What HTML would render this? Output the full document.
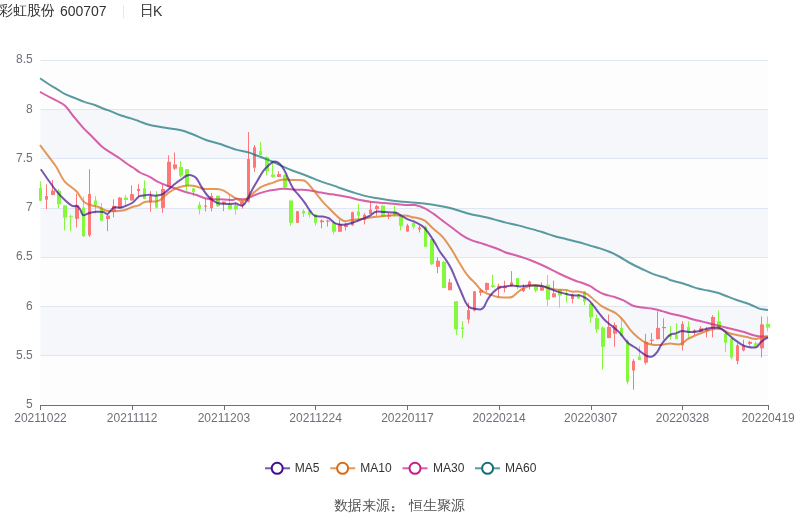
<!DOCTYPE html><html><head><meta charset="utf-8"><style>html,body{margin:0;padding:0;background:#fff;width:800px;height:517px;overflow:hidden}svg{display:block;will-change:transform}</style></head><body>
<svg width="800" height="517" viewBox="0 0 800 517" style="font-family:'Liberation Sans','WenQuanYi Zen Hei Sharp','WenQuanYi Zen Hei',sans-serif">
<text x="-1" y="15" font-size="14" fill="#333">彩虹股份</text>
<text x="59.9" y="16" font-size="14" fill="#333">600707</text>
<rect x="123" y="5" width="1" height="13" fill="#e6e6e6"/>
<text x="140" y="15" font-size="14" fill="#333">日</text>
<text x="153" y="16" font-size="14" fill="#333">K</text>
<rect x="40.5" y="60.00" width="727.5" height="49.29" fill="#fdfdfe"/>
<rect x="40.5" y="109.29" width="727.5" height="49.29" fill="#f5f7fb"/>
<rect x="40.5" y="158.57" width="727.5" height="49.29" fill="#fdfdfe"/>
<rect x="40.5" y="207.86" width="727.5" height="49.29" fill="#f5f7fb"/>
<rect x="40.5" y="257.14" width="727.5" height="49.29" fill="#fdfdfe"/>
<rect x="40.5" y="306.43" width="727.5" height="49.29" fill="#f5f7fb"/>
<rect x="40.5" y="355.71" width="727.5" height="49.29" fill="#fdfdfe"/>
<line x1="40.5" y1="60.5" x2="768" y2="60.5" stroke="#e0e6f1" stroke-width="1"/>
<line x1="40.5" y1="109.5" x2="768" y2="109.5" stroke="#e0e6f1" stroke-width="1"/>
<line x1="40.5" y1="158.5" x2="768" y2="158.5" stroke="#e0e6f1" stroke-width="1"/>
<line x1="40.5" y1="208.5" x2="768" y2="208.5" stroke="#e0e6f1" stroke-width="1"/>
<line x1="40.5" y1="257.5" x2="768" y2="257.5" stroke="#e0e6f1" stroke-width="1"/>
<line x1="40.5" y1="306.5" x2="768" y2="306.5" stroke="#e0e6f1" stroke-width="1"/>
<line x1="40.5" y1="355.5" x2="768" y2="355.5" stroke="#e0e6f1" stroke-width="1"/>
<text x="32.7" y="59.3" font-size="12" fill="#6e7079" text-anchor="end" dominant-baseline="central">8.5</text>
<text x="32.7" y="108.6" font-size="12" fill="#6e7079" text-anchor="end" dominant-baseline="central">8</text>
<text x="32.7" y="157.9" font-size="12" fill="#6e7079" text-anchor="end" dominant-baseline="central">7.5</text>
<text x="32.7" y="207.2" font-size="12" fill="#6e7079" text-anchor="end" dominant-baseline="central">7</text>
<text x="32.7" y="256.4" font-size="12" fill="#6e7079" text-anchor="end" dominant-baseline="central">6.5</text>
<text x="32.7" y="305.7" font-size="12" fill="#6e7079" text-anchor="end" dominant-baseline="central">6</text>
<text x="32.7" y="355.0" font-size="12" fill="#6e7079" text-anchor="end" dominant-baseline="central">5.5</text>
<text x="32.7" y="404.3" font-size="12" fill="#6e7079" text-anchor="end" dominant-baseline="central">5</text>
<line x1="40.5" y1="181.3" x2="40.5" y2="201.4" stroke="#84f83c" stroke-width="1"/>
<rect x="39.0" y="187.9" width="3.0" height="12.9" fill="#84f83c"/>
<line x1="46.5" y1="184.3" x2="46.5" y2="209.2" stroke="#fd7878" stroke-width="1"/>
<rect x="45.0" y="196.1" width="3.0" height="3.5" fill="#fd7878"/>
<line x1="52.5" y1="180.1" x2="52.5" y2="195.3" stroke="#fd7878" stroke-width="1"/>
<rect x="51.0" y="190.6" width="4.0" height="4.3" fill="#fd7878"/>
<line x1="58.5" y1="189.2" x2="58.5" y2="208.3" stroke="#84f83c" stroke-width="1"/>
<rect x="57.0" y="190.9" width="4.0" height="13.4" fill="#84f83c"/>
<line x1="64.5" y1="205.4" x2="64.5" y2="230.4" stroke="#84f83c" stroke-width="1"/>
<rect x="63.0" y="205.4" width="4.0" height="12.1" fill="#84f83c"/>
<line x1="70.5" y1="214.8" x2="70.5" y2="231.1" stroke="#84f83c" stroke-width="1"/>
<rect x="69.0" y="216.2" width="4.0" height="1.0" fill="#84f83c"/>
<line x1="76.5" y1="193.9" x2="76.5" y2="227.5" stroke="#fd7878" stroke-width="1"/>
<rect x="75.0" y="205.4" width="4.0" height="13.4" fill="#fd7878"/>
<line x1="83.5" y1="196.7" x2="83.5" y2="237.0" stroke="#84f83c" stroke-width="1"/>
<rect x="82.0" y="207.5" width="3.0" height="28.7" fill="#84f83c"/>
<line x1="89.5" y1="169.2" x2="89.5" y2="237.0" stroke="#fd7878" stroke-width="1"/>
<rect x="88.0" y="193.9" width="3.0" height="41.4" fill="#fd7878"/>
<line x1="95.5" y1="196.1" x2="95.5" y2="213.5" stroke="#84f83c" stroke-width="1"/>
<rect x="94.0" y="200.5" width="3.0" height="4.9" fill="#84f83c"/>
<line x1="101.5" y1="203.0" x2="101.5" y2="220.7" stroke="#84f83c" stroke-width="1"/>
<rect x="100.0" y="207.3" width="3.0" height="13.4" fill="#84f83c"/>
<line x1="107.5" y1="214.3" x2="107.5" y2="231.2" stroke="#fd7878" stroke-width="1"/>
<rect x="106.0" y="215.5" width="4.0" height="3.5" fill="#fd7878"/>
<line x1="113.5" y1="199.3" x2="113.5" y2="217.3" stroke="#fd7878" stroke-width="1"/>
<rect x="112.0" y="205.9" width="4.0" height="6.1" fill="#fd7878"/>
<line x1="119.5" y1="197.2" x2="119.5" y2="208.5" stroke="#fd7878" stroke-width="1"/>
<rect x="118.0" y="197.6" width="4.0" height="10.4" fill="#fd7878"/>
<line x1="125.5" y1="195.1" x2="125.5" y2="205.9" stroke="#84f83c" stroke-width="1"/>
<rect x="124.0" y="197.6" width="4.0" height="2.4" fill="#84f83c"/>
<line x1="131.5" y1="185.4" x2="131.5" y2="200.7" stroke="#fd7878" stroke-width="1"/>
<rect x="130.0" y="194.1" width="4.0" height="6.3" fill="#fd7878"/>
<line x1="138.5" y1="184.2" x2="138.5" y2="196.4" stroke="#fd7878" stroke-width="1"/>
<rect x="137.0" y="188.9" width="3.0" height="2.2" fill="#fd7878"/>
<line x1="144.5" y1="180.3" x2="144.5" y2="199.3" stroke="#84f83c" stroke-width="1"/>
<rect x="143.0" y="188.2" width="3.0" height="10.8" fill="#84f83c"/>
<line x1="150.5" y1="191.1" x2="150.5" y2="211.7" stroke="#fd7878" stroke-width="1"/>
<rect x="149.0" y="196.0" width="3.0" height="6.5" fill="#fd7878"/>
<line x1="156.5" y1="191.1" x2="156.5" y2="208.5" stroke="#84f83c" stroke-width="1"/>
<rect x="155.0" y="195.5" width="3.0" height="12.2" fill="#84f83c"/>
<line x1="162.5" y1="184.4" x2="162.5" y2="212.8" stroke="#fd7878" stroke-width="1"/>
<rect x="161.0" y="189.1" width="4.0" height="18.8" fill="#fd7878"/>
<line x1="168.5" y1="155.3" x2="168.5" y2="187.0" stroke="#fd7878" stroke-width="1"/>
<rect x="167.0" y="161.8" width="4.0" height="25.2" fill="#fd7878"/>
<line x1="174.5" y1="152.5" x2="174.5" y2="170.0" stroke="#fd7878" stroke-width="1"/>
<rect x="173.0" y="164.4" width="4.0" height="4.3" fill="#fd7878"/>
<line x1="180.5" y1="161.2" x2="180.5" y2="177.4" stroke="#84f83c" stroke-width="1"/>
<rect x="179.0" y="167.0" width="4.0" height="8.7" fill="#84f83c"/>
<line x1="186.5" y1="169.2" x2="186.5" y2="190.5" stroke="#84f83c" stroke-width="1"/>
<rect x="185.0" y="169.2" width="4.0" height="16.1" fill="#84f83c"/>
<line x1="193.5" y1="187.9" x2="193.5" y2="196.6" stroke="#84f83c" stroke-width="1"/>
<rect x="192.0" y="188.4" width="3.0" height="3.8" fill="#84f83c"/>
<line x1="199.5" y1="201.8" x2="199.5" y2="214.5" stroke="#84f83c" stroke-width="1"/>
<rect x="198.0" y="204.8" width="3.0" height="4.5" fill="#84f83c"/>
<line x1="205.5" y1="198.7" x2="205.5" y2="211.4" stroke="#fd7878" stroke-width="1"/>
<rect x="204.0" y="205.6" width="3.0" height="1.1" fill="#fd7878"/>
<line x1="211.5" y1="193.1" x2="211.5" y2="211.4" stroke="#fd7878" stroke-width="1"/>
<rect x="210.0" y="196.0" width="3.0" height="12.2" fill="#fd7878"/>
<line x1="217.5" y1="195.7" x2="217.5" y2="207.0" stroke="#84f83c" stroke-width="1"/>
<rect x="216.0" y="195.7" width="4.0" height="10.5" fill="#84f83c"/>
<line x1="223.5" y1="201.6" x2="223.5" y2="211.2" stroke="#fd7878" stroke-width="1"/>
<rect x="222.0" y="201.6" width="4.0" height="1.7" fill="#fd7878"/>
<line x1="229.5" y1="194.6" x2="229.5" y2="210.0" stroke="#84f83c" stroke-width="1"/>
<rect x="228.0" y="204.2" width="4.0" height="5.2" fill="#84f83c"/>
<line x1="235.5" y1="201.6" x2="235.5" y2="214.7" stroke="#84f83c" stroke-width="1"/>
<rect x="234.0" y="205.1" width="4.0" height="4.3" fill="#84f83c"/>
<line x1="242.5" y1="200.7" x2="242.5" y2="208.6" stroke="#fd7878" stroke-width="1"/>
<rect x="240.0" y="201.6" width="4.0" height="3.5" fill="#fd7878"/>
<line x1="248.5" y1="132.0" x2="248.5" y2="202.5" stroke="#fd7878" stroke-width="1"/>
<rect x="247.0" y="159.0" width="3.0" height="42.6" fill="#fd7878"/>
<line x1="254.5" y1="145.0" x2="254.5" y2="172.0" stroke="#fd7878" stroke-width="1"/>
<rect x="253.0" y="147.3" width="3.0" height="20.4" fill="#fd7878"/>
<line x1="260.5" y1="141.9" x2="260.5" y2="155.5" stroke="#84f83c" stroke-width="1"/>
<rect x="259.0" y="151.1" width="3.0" height="3.9" fill="#84f83c"/>
<line x1="266.5" y1="156.3" x2="266.5" y2="175.5" stroke="#84f83c" stroke-width="1"/>
<rect x="265.0" y="157.2" width="4.0" height="13.9" fill="#84f83c"/>
<line x1="272.5" y1="161.6" x2="272.5" y2="177.8" stroke="#84f83c" stroke-width="1"/>
<rect x="271.0" y="174.6" width="4.0" height="2.3" fill="#84f83c"/>
<line x1="278.5" y1="171.1" x2="278.5" y2="177.2" stroke="#fd7878" stroke-width="1"/>
<rect x="277.0" y="174.1" width="4.0" height="2.8" fill="#fd7878"/>
<line x1="284.5" y1="174.4" x2="284.5" y2="188.0" stroke="#84f83c" stroke-width="1"/>
<rect x="283.0" y="175.2" width="4.0" height="12.2" fill="#84f83c"/>
<line x1="290.5" y1="200.5" x2="290.5" y2="225.7" stroke="#84f83c" stroke-width="1"/>
<rect x="289.0" y="200.5" width="4.0" height="22.3" fill="#84f83c"/>
<line x1="297.5" y1="211.0" x2="297.5" y2="222.8" stroke="#fd7878" stroke-width="1"/>
<rect x="296.0" y="211.3" width="3.0" height="11.5" fill="#fd7878"/>
<line x1="303.5" y1="209.2" x2="303.5" y2="217.0" stroke="#84f83c" stroke-width="1"/>
<rect x="302.0" y="211.0" width="3.0" height="2.5" fill="#84f83c"/>
<line x1="309.5" y1="210.0" x2="309.5" y2="217.5" stroke="#84f83c" stroke-width="1"/>
<rect x="308.0" y="211.0" width="3.0" height="3.8" fill="#84f83c"/>
<line x1="315.5" y1="214.0" x2="315.5" y2="225.7" stroke="#84f83c" stroke-width="1"/>
<rect x="314.0" y="214.4" width="3.0" height="8.4" fill="#84f83c"/>
<line x1="321.5" y1="219.3" x2="321.5" y2="228.3" stroke="#fd7878" stroke-width="1"/>
<rect x="320.0" y="220.5" width="4.0" height="1.7" fill="#fd7878"/>
<line x1="327.5" y1="219.6" x2="327.5" y2="226.6" stroke="#fd7878" stroke-width="1"/>
<rect x="326.0" y="220.5" width="4.0" height="1.2" fill="#fd7878"/>
<line x1="333.5" y1="221.0" x2="333.5" y2="234.4" stroke="#84f83c" stroke-width="1"/>
<rect x="332.0" y="222.8" width="4.0" height="9.0" fill="#84f83c"/>
<line x1="339.5" y1="219.6" x2="339.5" y2="231.8" stroke="#fd7878" stroke-width="1"/>
<rect x="338.0" y="224.0" width="4.0" height="7.8" fill="#fd7878"/>
<line x1="345.5" y1="222.7" x2="345.5" y2="230.5" stroke="#fd7878" stroke-width="1"/>
<rect x="344.0" y="224.8" width="4.0" height="2.2" fill="#fd7878"/>
<line x1="352.5" y1="211.8" x2="352.5" y2="225.8" stroke="#fd7878" stroke-width="1"/>
<rect x="351.0" y="212.2" width="3.0" height="13.1" fill="#fd7878"/>
<line x1="358.5" y1="203.9" x2="358.5" y2="220.0" stroke="#84f83c" stroke-width="1"/>
<rect x="357.0" y="211.4" width="3.0" height="4.3" fill="#84f83c"/>
<line x1="364.5" y1="213.1" x2="364.5" y2="224.4" stroke="#fd7878" stroke-width="1"/>
<rect x="363.0" y="214.8" width="3.0" height="5.2" fill="#fd7878"/>
<line x1="370.5" y1="202.1" x2="370.5" y2="214.0" stroke="#fd7878" stroke-width="1"/>
<rect x="369.0" y="209.6" width="3.0" height="4.4" fill="#fd7878"/>
<line x1="376.5" y1="204.9" x2="376.5" y2="215.7" stroke="#fd7878" stroke-width="1"/>
<rect x="375.0" y="206.1" width="4.0" height="3.0" fill="#fd7878"/>
<line x1="382.5" y1="205.3" x2="382.5" y2="217.1" stroke="#84f83c" stroke-width="1"/>
<rect x="381.0" y="205.6" width="4.0" height="11.0" fill="#84f83c"/>
<line x1="388.5" y1="213.1" x2="388.5" y2="219.2" stroke="#fd7878" stroke-width="1"/>
<rect x="387.0" y="214.8" width="4.0" height="1.8" fill="#fd7878"/>
<line x1="394.5" y1="205.6" x2="394.5" y2="216.6" stroke="#84f83c" stroke-width="1"/>
<rect x="393.0" y="211.4" width="4.0" height="3.4" fill="#84f83c"/>
<line x1="400.5" y1="215.7" x2="400.5" y2="230.5" stroke="#84f83c" stroke-width="1"/>
<rect x="399.0" y="216.6" width="4.0" height="9.2" fill="#84f83c"/>
<line x1="407.5" y1="223.8" x2="407.5" y2="231.8" stroke="#fd7878" stroke-width="1"/>
<rect x="406.0" y="225.5" width="3.0" height="6.0" fill="#fd7878"/>
<line x1="413.5" y1="222.5" x2="413.5" y2="229.4" stroke="#84f83c" stroke-width="1"/>
<rect x="412.0" y="222.9" width="3.0" height="3.9" fill="#84f83c"/>
<line x1="419.5" y1="225.5" x2="419.5" y2="232.5" stroke="#fd7878" stroke-width="1"/>
<rect x="418.0" y="227.6" width="3.0" height="1.8" fill="#fd7878"/>
<line x1="425.5" y1="225.5" x2="425.5" y2="246.8" stroke="#84f83c" stroke-width="1"/>
<rect x="424.0" y="226.8" width="3.0" height="20.0" fill="#84f83c"/>
<line x1="431.5" y1="239.0" x2="431.5" y2="265.0" stroke="#84f83c" stroke-width="1"/>
<rect x="430.0" y="239.0" width="4.0" height="25.2" fill="#84f83c"/>
<line x1="437.5" y1="257.2" x2="437.5" y2="273.2" stroke="#fd7878" stroke-width="1"/>
<rect x="436.0" y="260.7" width="4.0" height="6.1" fill="#fd7878"/>
<line x1="443.5" y1="260.7" x2="443.5" y2="288.2" stroke="#84f83c" stroke-width="1"/>
<rect x="442.0" y="262.0" width="4.0" height="26.0" fill="#84f83c"/>
<line x1="449.5" y1="278.9" x2="449.5" y2="290.3" stroke="#fd7878" stroke-width="1"/>
<rect x="448.0" y="282.4" width="4.0" height="7.8" fill="#fd7878"/>
<line x1="456.5" y1="301.3" x2="456.5" y2="334.9" stroke="#84f83c" stroke-width="1"/>
<rect x="454.0" y="301.3" width="4.0" height="28.0" fill="#84f83c"/>
<line x1="462.5" y1="321.3" x2="462.5" y2="338.3" stroke="#84f83c" stroke-width="1"/>
<rect x="461.0" y="327.5" width="3.0" height="1.5" fill="#84f83c"/>
<line x1="468.5" y1="302.7" x2="468.5" y2="323.5" stroke="#fd7878" stroke-width="1"/>
<rect x="467.0" y="310.1" width="3.0" height="9.4" fill="#fd7878"/>
<line x1="474.5" y1="291.0" x2="474.5" y2="311.4" stroke="#fd7878" stroke-width="1"/>
<rect x="473.0" y="291.3" width="3.0" height="19.2" fill="#fd7878"/>
<line x1="480.5" y1="288.7" x2="480.5" y2="295.7" stroke="#fd7878" stroke-width="1"/>
<rect x="479.0" y="290.5" width="4.0" height="2.2" fill="#fd7878"/>
<line x1="486.5" y1="282.5" x2="486.5" y2="292.2" stroke="#fd7878" stroke-width="1"/>
<rect x="485.0" y="283.0" width="4.0" height="7.0" fill="#fd7878"/>
<line x1="492.5" y1="274.8" x2="492.5" y2="287.9" stroke="#84f83c" stroke-width="1"/>
<rect x="491.0" y="285.2" width="4.0" height="1.8" fill="#84f83c"/>
<line x1="498.5" y1="283.7" x2="498.5" y2="298.0" stroke="#fd7878" stroke-width="1"/>
<rect x="497.0" y="285.8" width="4.0" height="2.6" fill="#fd7878"/>
<line x1="504.5" y1="280.7" x2="504.5" y2="292.4" stroke="#fd7878" stroke-width="1"/>
<rect x="503.0" y="286.4" width="4.0" height="1.8" fill="#fd7878"/>
<line x1="511.5" y1="271.1" x2="511.5" y2="286.4" stroke="#fd7878" stroke-width="1"/>
<rect x="510.0" y="282.4" width="3.0" height="4.0" fill="#fd7878"/>
<line x1="517.5" y1="278.1" x2="517.5" y2="289.4" stroke="#84f83c" stroke-width="1"/>
<rect x="516.0" y="278.1" width="3.0" height="8.7" fill="#84f83c"/>
<line x1="523.5" y1="284.2" x2="523.5" y2="292.0" stroke="#fd7878" stroke-width="1"/>
<rect x="522.0" y="288.5" width="3.0" height="2.6" fill="#fd7878"/>
<line x1="529.5" y1="280.7" x2="529.5" y2="289.4" stroke="#fd7878" stroke-width="1"/>
<rect x="528.0" y="281.6" width="3.0" height="3.4" fill="#fd7878"/>
<line x1="535.5" y1="284.2" x2="535.5" y2="292.4" stroke="#84f83c" stroke-width="1"/>
<rect x="534.0" y="284.7" width="4.0" height="5.9" fill="#84f83c"/>
<line x1="541.5" y1="282.4" x2="541.5" y2="290.8" stroke="#fd7878" stroke-width="1"/>
<rect x="540.0" y="286.8" width="4.0" height="3.8" fill="#fd7878"/>
<line x1="547.5" y1="275.0" x2="547.5" y2="305.9" stroke="#84f83c" stroke-width="1"/>
<rect x="546.0" y="284.7" width="4.0" height="15.1" fill="#84f83c"/>
<line x1="553.5" y1="280.7" x2="553.5" y2="297.4" stroke="#fd7878" stroke-width="1"/>
<rect x="552.0" y="293.4" width="4.0" height="3.8" fill="#fd7878"/>
<line x1="559.5" y1="289.4" x2="559.5" y2="307.7" stroke="#84f83c" stroke-width="1"/>
<rect x="558.0" y="289.4" width="4.0" height="6.1" fill="#84f83c"/>
<line x1="566.5" y1="290.2" x2="566.5" y2="302.4" stroke="#84f83c" stroke-width="1"/>
<rect x="565.0" y="292.9" width="3.0" height="2.1" fill="#84f83c"/>
<line x1="572.5" y1="293.7" x2="572.5" y2="303.3" stroke="#fd7878" stroke-width="1"/>
<rect x="571.0" y="295.0" width="3.0" height="4.0" fill="#fd7878"/>
<line x1="578.5" y1="294.0" x2="578.5" y2="299.0" stroke="#84f83c" stroke-width="1"/>
<rect x="577.0" y="294.6" width="3.0" height="3.8" fill="#84f83c"/>
<line x1="584.5" y1="290.8" x2="584.5" y2="305.0" stroke="#84f83c" stroke-width="1"/>
<rect x="583.0" y="291.5" width="3.0" height="10.1" fill="#84f83c"/>
<line x1="590.5" y1="303.6" x2="590.5" y2="322.8" stroke="#84f83c" stroke-width="1"/>
<rect x="589.0" y="303.6" width="4.0" height="13.6" fill="#84f83c"/>
<line x1="596.5" y1="314.6" x2="596.5" y2="332.9" stroke="#84f83c" stroke-width="1"/>
<rect x="595.0" y="318.1" width="4.0" height="11.3" fill="#84f83c"/>
<line x1="602.5" y1="326.3" x2="602.5" y2="369.5" stroke="#84f83c" stroke-width="1"/>
<rect x="601.0" y="327.6" width="4.0" height="19.2" fill="#84f83c"/>
<line x1="608.5" y1="314.5" x2="608.5" y2="338.2" stroke="#fd7878" stroke-width="1"/>
<rect x="607.0" y="327.0" width="4.0" height="11.0" fill="#fd7878"/>
<line x1="614.5" y1="322.4" x2="614.5" y2="346.8" stroke="#fd7878" stroke-width="1"/>
<rect x="613.0" y="325.0" width="4.0" height="8.6" fill="#fd7878"/>
<line x1="621.5" y1="317.4" x2="621.5" y2="336.6" stroke="#84f83c" stroke-width="1"/>
<rect x="620.0" y="327.9" width="3.0" height="7.8" fill="#84f83c"/>
<line x1="627.5" y1="339.2" x2="627.5" y2="384.4" stroke="#84f83c" stroke-width="1"/>
<rect x="626.0" y="340.9" width="3.0" height="40.9" fill="#84f83c"/>
<line x1="633.5" y1="359.2" x2="633.5" y2="389.7" stroke="#fd7878" stroke-width="1"/>
<rect x="632.0" y="360.9" width="3.0" height="9.6" fill="#fd7878"/>
<line x1="639.5" y1="346.1" x2="639.5" y2="360.0" stroke="#84f83c" stroke-width="1"/>
<rect x="638.0" y="356.6" width="3.0" height="3.4" fill="#84f83c"/>
<line x1="645.5" y1="333.9" x2="645.5" y2="364.4" stroke="#fd7878" stroke-width="1"/>
<rect x="644.0" y="341.8" width="4.0" height="20.9" fill="#fd7878"/>
<line x1="651.5" y1="333.1" x2="651.5" y2="344.4" stroke="#fd7878" stroke-width="1"/>
<rect x="650.0" y="339.7" width="4.0" height="1.2" fill="#fd7878"/>
<line x1="657.5" y1="311.3" x2="657.5" y2="339.2" stroke="#fd7878" stroke-width="1"/>
<rect x="656.0" y="327.9" width="4.0" height="11.3" fill="#fd7878"/>
<line x1="663.5" y1="318.3" x2="663.5" y2="339.2" stroke="#fd7878" stroke-width="1"/>
<rect x="662.0" y="327.0" width="4.0" height="1.2" fill="#fd7878"/>
<line x1="670.5" y1="326.2" x2="670.5" y2="339.6" stroke="#84f83c" stroke-width="1"/>
<rect x="668.0" y="334.9" width="4.0" height="1.8" fill="#84f83c"/>
<line x1="676.5" y1="323.1" x2="676.5" y2="339.1" stroke="#84f83c" stroke-width="1"/>
<rect x="675.0" y="334.9" width="3.0" height="4.2" fill="#84f83c"/>
<line x1="682.5" y1="321.3" x2="682.5" y2="350.6" stroke="#fd7878" stroke-width="1"/>
<rect x="681.0" y="324.0" width="3.0" height="21.4" fill="#fd7878"/>
<line x1="688.5" y1="321.3" x2="688.5" y2="337.9" stroke="#84f83c" stroke-width="1"/>
<rect x="687.0" y="326.9" width="3.0" height="5.8" fill="#84f83c"/>
<line x1="694.5" y1="329.2" x2="694.5" y2="335.6" stroke="#fd7878" stroke-width="1"/>
<rect x="693.0" y="330.4" width="3.0" height="1.4" fill="#fd7878"/>
<line x1="700.5" y1="326.2" x2="700.5" y2="331.8" stroke="#fd7878" stroke-width="1"/>
<rect x="699.0" y="328.3" width="4.0" height="3.5" fill="#fd7878"/>
<line x1="706.5" y1="326.9" x2="706.5" y2="337.4" stroke="#fd7878" stroke-width="1"/>
<rect x="705.0" y="329.2" width="4.0" height="1.7" fill="#fd7878"/>
<line x1="712.5" y1="315.2" x2="712.5" y2="337.4" stroke="#fd7878" stroke-width="1"/>
<rect x="711.0" y="317.0" width="4.0" height="11.6" fill="#fd7878"/>
<line x1="718.5" y1="310.4" x2="718.5" y2="329.6" stroke="#84f83c" stroke-width="1"/>
<rect x="717.0" y="321.3" width="4.0" height="8.3" fill="#84f83c"/>
<line x1="725.5" y1="331.8" x2="725.5" y2="352.2" stroke="#84f83c" stroke-width="1"/>
<rect x="724.0" y="333.9" width="3.0" height="8.8" fill="#84f83c"/>
<line x1="731.5" y1="338.3" x2="731.5" y2="359.2" stroke="#84f83c" stroke-width="1"/>
<rect x="730.0" y="338.6" width="3.0" height="18.9" fill="#84f83c"/>
<line x1="737.5" y1="343.2" x2="737.5" y2="364.4" stroke="#fd7878" stroke-width="1"/>
<rect x="736.0" y="345.3" width="3.0" height="15.6" fill="#fd7878"/>
<line x1="743.5" y1="339.7" x2="743.5" y2="351.4" stroke="#fd7878" stroke-width="1"/>
<rect x="742.0" y="345.6" width="3.0" height="4.9" fill="#fd7878"/>
<line x1="749.5" y1="340.9" x2="749.5" y2="345.6" stroke="#fd7878" stroke-width="1"/>
<rect x="748.0" y="341.8" width="4.0" height="2.1" fill="#fd7878"/>
<line x1="755.5" y1="341.4" x2="755.5" y2="347.9" stroke="#84f83c" stroke-width="1"/>
<rect x="754.0" y="343.2" width="4.0" height="3.5" fill="#84f83c"/>
<line x1="761.5" y1="316.5" x2="761.5" y2="357.5" stroke="#fd7878" stroke-width="1"/>
<rect x="760.0" y="324.4" width="4.0" height="24.0" fill="#fd7878"/>
<line x1="767.5" y1="316.5" x2="767.5" y2="331.3" stroke="#84f83c" stroke-width="1"/>
<rect x="766.0" y="324.0" width="4.0" height="3.5" fill="#84f83c"/>
<path d="M40.00,78.20 C41.28,79.08 44.82,81.65 47.70,83.50 C50.58,85.35 54.40,87.52 57.30,89.30 C60.20,91.08 62.18,92.75 65.10,94.20 C68.02,95.65 71.58,96.72 74.80,98.00 C78.02,99.28 81.18,100.77 84.40,101.90 C87.62,103.03 90.87,103.67 94.10,104.80 C97.33,105.93 100.90,107.57 103.80,108.70 C106.70,109.83 108.60,110.47 111.50,111.60 C114.40,112.73 117.98,114.37 121.20,115.50 C124.42,116.63 128.00,117.53 130.80,118.40 C133.60,119.27 136.47,120.17 138.00,120.70 C139.53,121.23 138.00,120.88 140.00,121.60 C142.00,122.32 146.00,124.00 150.00,125.00 C154.00,126.00 159.00,126.77 164.00,127.60 C169.00,128.43 175.33,128.93 180.00,130.00 C184.67,131.07 187.67,132.33 192.00,134.00 C196.33,135.67 201.33,138.33 206.00,140.00 C210.67,141.67 215.33,142.50 220.00,144.00 C224.67,145.50 231.33,148.07 234.00,149.00 C236.67,149.93 234.63,149.25 236.00,149.60 C237.37,149.95 240.13,150.63 242.20,151.10 C244.27,151.57 246.33,151.80 248.40,152.40 C250.47,153.00 252.53,153.93 254.60,154.70 C256.67,155.47 258.73,156.22 260.80,157.00 C262.87,157.78 264.93,158.57 267.00,159.40 C269.07,160.23 271.15,161.10 273.20,162.00 C275.25,162.90 277.25,163.87 279.30,164.80 C281.35,165.73 283.43,166.70 285.50,167.60 C287.57,168.50 289.63,169.38 291.70,170.20 C293.77,171.02 295.83,171.73 297.90,172.50 C299.97,173.27 302.03,174.02 304.10,174.80 C306.17,175.58 308.23,176.35 310.30,177.20 C312.37,178.05 314.43,179.08 316.50,179.90 C318.57,180.72 320.63,181.40 322.70,182.10 C324.77,182.80 326.68,183.38 328.90,184.10 C331.12,184.82 334.15,185.75 336.00,186.40 C337.85,187.05 337.33,187.07 340.00,188.00 C342.67,188.93 348.00,190.73 352.00,192.00 C356.00,193.27 360.00,194.60 364.00,195.60 C368.00,196.60 372.00,197.27 376.00,198.00 C380.00,198.73 384.00,199.40 388.00,200.00 C392.00,200.60 396.00,201.20 400.00,201.60 C404.00,202.00 408.00,202.07 412.00,202.40 C416.00,202.73 419.33,203.00 424.00,203.60 C428.67,204.20 435.67,205.27 440.00,206.00 C444.33,206.73 446.67,207.17 450.00,208.00 C453.33,208.83 456.67,210.00 460.00,211.00 C463.33,212.00 466.33,213.07 470.00,214.00 C473.67,214.93 478.00,215.70 482.00,216.60 C486.00,217.50 490.00,218.40 494.00,219.40 C498.00,220.40 502.00,221.60 506.00,222.60 C510.00,223.60 514.00,224.40 518.00,225.40 C522.00,226.40 526.00,227.50 530.00,228.60 C534.00,229.70 538.00,230.77 542.00,232.00 C546.00,233.23 550.00,234.83 554.00,236.00 C558.00,237.17 562.00,238.00 566.00,239.00 C570.00,240.00 574.00,240.90 578.00,242.00 C582.00,243.10 586.33,244.53 590.00,245.60 C593.67,246.67 596.67,247.33 600.00,248.40 C603.33,249.47 606.67,250.57 610.00,252.00 C613.33,253.43 616.67,255.17 620.00,257.00 C623.33,258.83 626.33,261.00 630.00,263.00 C633.67,265.00 638.00,267.10 642.00,269.00 C646.00,270.90 650.00,272.90 654.00,274.40 C658.00,275.90 663.33,277.07 666.00,278.00 C668.67,278.93 667.60,279.20 670.00,280.00 C672.40,280.80 677.12,281.83 680.40,282.80 C683.68,283.77 686.60,284.80 689.70,285.80 C692.80,286.80 695.92,288.00 699.00,288.80 C702.08,289.60 705.12,289.93 708.20,290.60 C711.28,291.27 714.40,291.85 717.50,292.80 C720.60,293.75 723.70,295.15 726.80,296.30 C729.90,297.45 733.00,298.62 736.10,299.70 C739.20,300.78 742.68,301.83 745.40,302.80 C748.12,303.77 750.08,304.53 752.40,305.50 C754.72,306.47 756.70,307.85 759.30,308.60 C761.90,309.35 766.55,309.77 768.00,310.00" fill="none" stroke="#137178" stroke-opacity="0.70" stroke-width="2" stroke-linejoin="round"/>
<path d="M40.00,91.80 C41.60,92.68 46.72,95.57 49.60,97.10 C52.48,98.63 54.72,99.55 57.30,101.00 C59.88,102.45 62.52,103.38 65.10,105.80 C67.68,108.22 69.90,111.95 72.80,115.50 C75.70,119.05 79.27,123.57 82.50,127.10 C85.73,130.63 88.98,133.48 92.20,136.70 C95.42,139.92 98.58,143.65 101.80,146.40 C105.02,149.15 108.60,151.27 111.50,153.20 C114.40,155.13 116.62,156.23 119.20,158.00 C121.78,159.77 124.70,162.22 127.00,163.80 C129.30,165.38 130.83,166.05 133.00,167.50 C135.17,168.95 137.28,170.97 140.00,172.50 C142.72,174.03 146.20,175.10 149.30,176.70 C152.40,178.30 155.50,180.55 158.60,182.10 C161.70,183.65 164.80,184.83 167.90,186.00 C171.00,187.17 174.12,188.07 177.20,189.10 C180.28,190.13 183.32,191.25 186.40,192.20 C189.48,193.15 192.60,193.80 195.70,194.80 C198.80,195.80 201.90,197.45 205.00,198.20 C208.10,198.95 211.20,199.10 214.30,199.30 C217.40,199.50 220.50,199.28 223.60,199.40 C226.70,199.52 230.83,200.10 232.90,200.00 C234.97,199.90 233.93,198.92 236.00,198.80 C238.07,198.68 242.72,199.68 245.30,199.30 C247.88,198.92 249.18,197.48 251.50,196.50 C253.82,195.52 256.62,194.30 259.20,193.40 C261.78,192.50 264.42,191.70 267.00,191.10 C269.58,190.50 272.13,190.18 274.70,189.80 C277.27,189.42 279.82,188.90 282.40,188.80 C284.98,188.70 287.62,189.03 290.20,189.20 C292.78,189.37 295.32,189.68 297.90,189.80 C300.48,189.92 303.12,189.68 305.70,189.90 C308.28,190.12 310.83,190.65 313.40,191.10 C315.97,191.55 318.52,192.13 321.10,192.60 C323.68,193.07 326.42,193.52 328.90,193.90 C331.38,194.28 332.82,194.38 336.00,194.90 C339.18,195.42 344.00,196.15 348.00,197.00 C352.00,197.85 356.00,199.17 360.00,200.00 C364.00,200.83 368.00,201.50 372.00,202.00 C376.00,202.50 380.00,202.67 384.00,203.00 C388.00,203.33 392.00,203.67 396.00,204.00 C400.00,204.33 404.83,204.82 408.00,205.00 C411.17,205.18 412.28,204.58 415.00,205.10 C417.72,205.62 421.20,206.63 424.30,208.10 C427.40,209.57 430.52,211.77 433.60,213.90 C436.68,216.03 439.72,218.58 442.80,220.90 C445.88,223.22 449.00,225.48 452.10,227.80 C455.20,230.12 458.30,232.78 461.40,234.80 C464.50,236.82 467.60,238.55 470.70,239.90 C473.80,241.25 476.92,241.90 480.00,242.90 C483.08,243.90 486.12,244.85 489.20,245.90 C492.28,246.95 495.87,248.15 498.50,249.20 C501.13,250.25 501.75,251.07 505.00,252.20 C508.25,253.33 513.83,254.70 518.00,256.00 C522.17,257.30 525.67,258.33 530.00,260.00 C534.33,261.67 539.00,263.67 544.00,266.00 C549.00,268.33 554.67,271.50 560.00,274.00 C565.33,276.50 572.67,279.65 576.00,281.00 C579.33,282.35 577.72,281.28 580.00,282.10 C582.28,282.92 586.88,284.50 589.70,285.90 C592.52,287.30 594.48,289.12 596.90,290.50 C599.32,291.88 601.38,293.15 604.20,294.20 C607.02,295.25 610.58,295.77 613.80,296.80 C617.02,297.83 620.28,298.90 623.50,300.40 C626.72,301.90 629.88,304.60 633.10,305.80 C636.32,307.00 639.57,307.10 642.80,307.60 C646.03,308.10 649.28,308.22 652.50,308.80 C655.72,309.38 659.18,310.32 662.10,311.10 C665.02,311.88 667.33,312.82 670.00,313.50 C672.67,314.18 675.40,314.57 678.10,315.20 C680.80,315.83 683.48,316.53 686.20,317.30 C688.92,318.07 691.68,319.08 694.40,319.80 C697.12,320.52 699.80,320.95 702.50,321.60 C705.20,322.25 707.90,323.02 710.60,323.70 C713.30,324.38 716.00,325.03 718.70,325.70 C721.40,326.37 724.08,327.02 726.80,327.70 C729.52,328.38 732.28,329.12 735.00,329.80 C737.72,330.48 740.40,331.02 743.10,331.80 C745.80,332.58 748.72,333.77 751.20,334.50 C753.68,335.23 755.20,335.85 758.00,336.20 C760.80,336.55 766.33,336.53 768.00,336.60" fill="none" stroke="#c81e85" stroke-opacity="0.70" stroke-width="2" stroke-linejoin="round"/>
<path d="M40.00,145.00 C40.62,145.83 41.15,146.58 43.70,150.00 C46.25,153.42 52.92,162.17 55.30,165.50 C57.68,168.83 56.38,167.27 58.00,170.00 C59.62,172.73 61.90,178.32 65.00,181.90 C68.10,185.48 73.38,188.12 76.60,191.50 C79.82,194.88 81.40,199.78 84.30,202.20 C87.20,204.62 91.72,205.23 94.00,206.00 C96.28,206.77 95.88,206.00 98.00,206.80 C100.12,207.60 103.80,210.07 106.70,210.80 C109.60,211.53 112.50,211.28 115.40,211.20 C118.30,211.12 121.20,211.03 124.10,210.30 C127.00,209.57 130.48,207.58 132.80,206.80 C135.12,206.02 136.80,205.97 138.00,205.60 C139.20,205.23 138.90,205.20 140.00,204.60 C141.10,204.00 143.05,202.52 144.60,202.00 C146.15,201.48 147.48,201.58 149.30,201.50 C151.12,201.42 153.70,201.75 155.50,201.50 C157.30,201.25 158.55,200.92 160.10,200.00 C161.65,199.08 163.25,197.30 164.80,196.00 C166.35,194.70 167.60,193.42 169.40,192.20 C171.20,190.98 173.53,189.65 175.60,188.70 C177.67,187.75 180.00,187.00 181.80,186.50 C183.60,186.00 184.60,185.83 186.40,185.70 C188.20,185.57 190.78,185.52 192.60,185.70 C194.42,185.88 195.75,186.35 197.30,186.80 C198.85,187.25 199.83,188.02 201.90,188.40 C203.97,188.78 207.12,188.98 209.70,189.10 C212.28,189.22 215.08,188.83 217.40,189.10 C219.72,189.37 221.53,189.80 223.60,190.70 C225.67,191.60 227.73,193.20 229.80,194.50 C231.87,195.80 233.93,197.40 236.00,198.50 C238.07,199.60 240.13,201.30 242.20,201.10 C244.27,200.90 246.33,198.83 248.40,197.30 C250.47,195.77 252.53,193.58 254.60,191.90 C256.67,190.22 258.73,188.42 260.80,187.20 C262.87,185.98 264.93,185.37 267.00,184.60 C269.07,183.83 271.15,183.33 273.20,182.60 C275.25,181.87 277.25,180.72 279.30,180.20 C281.35,179.68 283.43,179.55 285.50,179.50 C287.57,179.45 289.63,179.83 291.70,179.90 C293.77,179.97 296.22,179.85 297.90,179.90 C299.58,179.95 300.43,179.90 301.80,180.20 C303.17,180.50 304.42,180.37 306.10,181.70 C307.78,183.03 309.97,185.90 311.90,188.20 C313.83,190.50 315.77,193.08 317.70,195.50 C319.63,197.92 321.57,200.53 323.50,202.70 C325.43,204.87 327.37,206.57 329.30,208.50 C331.23,210.43 333.17,212.48 335.10,214.30 C337.03,216.12 339.25,218.25 340.90,219.40 C342.55,220.55 343.20,221.12 345.00,221.20 C346.80,221.28 349.03,220.25 351.70,219.90 C354.37,219.55 357.92,219.48 361.00,219.10 C364.08,218.72 367.12,218.03 370.20,217.60 C373.28,217.17 376.40,216.83 379.50,216.50 C382.60,216.17 386.22,215.82 388.80,215.60 C391.38,215.38 392.93,215.20 395.00,215.20 C397.07,215.20 399.13,215.50 401.20,215.60 C403.27,215.70 405.33,215.47 407.40,215.80 C409.47,216.13 412.33,217.33 413.60,217.60 C414.87,217.87 413.22,216.93 415.00,217.40 C416.78,217.87 421.20,218.47 424.30,220.40 C427.40,222.33 430.52,226.22 433.60,229.00 C436.68,231.78 439.75,233.60 442.80,237.10 C445.85,240.60 449.32,246.02 451.90,250.00 C454.48,253.98 456.30,257.63 458.30,261.00 C460.30,264.37 462.05,267.45 463.90,270.20 C465.75,272.95 467.57,275.37 469.40,277.50 C471.23,279.63 473.07,281.02 474.90,283.00 C476.73,284.98 478.57,287.72 480.40,289.40 C482.23,291.08 484.07,292.17 485.90,293.10 C487.73,294.03 489.57,294.38 491.40,295.00 C493.23,295.62 495.47,296.42 496.90,296.80 C498.33,297.18 498.65,297.20 500.00,297.30 C501.35,297.40 503.00,297.45 505.00,297.40 C507.00,297.35 509.83,297.90 512.00,297.00 C514.17,296.10 516.00,293.50 518.00,292.00 C520.00,290.50 521.67,289.07 524.00,288.00 C526.33,286.93 529.33,286.00 532.00,285.60 C534.67,285.20 537.33,285.20 540.00,285.60 C542.67,286.00 545.33,287.33 548.00,288.00 C550.67,288.67 553.00,289.27 556.00,289.60 C559.00,289.93 563.33,289.67 566.00,290.00 C568.67,290.33 569.67,291.32 572.00,291.60 C574.33,291.88 577.47,291.27 580.00,291.70 C582.53,292.13 584.78,292.78 587.20,294.20 C589.62,295.62 592.08,298.20 594.50,300.20 C596.92,302.20 599.28,304.58 601.70,306.20 C604.12,307.82 606.58,308.68 609.00,309.90 C611.42,311.12 613.78,311.70 616.20,313.50 C618.62,315.30 621.08,317.88 623.50,320.70 C625.92,323.52 628.28,327.58 630.70,330.40 C633.12,333.22 635.58,335.58 638.00,337.60 C640.42,339.62 642.78,341.32 645.20,342.50 C647.62,343.68 649.68,344.33 652.50,344.70 C655.32,345.07 659.18,344.90 662.10,344.70 C665.02,344.50 667.33,343.55 670.00,343.50 C672.67,343.45 676.07,344.43 678.10,344.40 C680.13,344.37 680.62,344.17 682.20,343.30 C683.78,342.43 685.57,340.43 687.60,339.20 C689.63,337.97 691.92,337.02 694.40,335.90 C696.88,334.78 699.80,333.52 702.50,332.50 C705.20,331.48 708.35,330.43 710.60,329.80 C712.85,329.17 714.42,328.88 716.00,328.70 C717.58,328.52 718.75,328.42 720.10,328.70 C721.45,328.98 722.53,329.65 724.10,330.40 C725.67,331.15 727.23,332.40 729.50,333.20 C731.77,334.00 734.98,334.60 737.70,335.20 C740.42,335.80 743.10,336.20 745.80,336.80 C748.50,337.40 751.87,338.50 753.90,338.80 C755.93,339.10 756.65,338.80 758.00,338.60 C759.35,338.40 760.33,337.90 762.00,337.60 C763.67,337.30 767.00,336.93 768.00,336.80" fill="none" stroke="#d96c12" stroke-opacity="0.70" stroke-width="2" stroke-linejoin="round"/>
<path d="M40.80,169.30 C41.93,170.92 45.18,175.62 47.60,179.00 C50.02,182.38 52.73,186.38 55.30,189.60 C57.87,192.82 60.25,195.62 63.00,198.30 C65.75,200.98 69.47,204.42 71.80,205.70 C74.13,206.98 75.55,205.28 77.00,206.00 C78.45,206.72 79.47,208.45 80.50,210.00 C81.53,211.55 81.75,214.80 83.20,215.30 C84.65,215.80 87.03,213.58 89.20,213.00 C91.37,212.42 93.87,211.97 96.20,211.80 C98.53,211.63 101.30,211.67 103.20,212.00 C105.10,212.33 105.85,214.52 107.60,213.80 C109.35,213.08 111.53,208.72 113.70,207.70 C115.87,206.68 118.28,208.13 120.60,207.70 C122.92,207.27 125.57,205.97 127.60,205.10 C129.63,204.23 131.07,203.82 132.80,202.50 C134.53,201.18 136.80,198.28 138.00,197.20 C139.20,196.12 138.90,196.32 140.00,196.00 C141.10,195.68 143.05,195.50 144.60,195.30 C146.15,195.10 147.75,194.75 149.30,194.80 C150.85,194.85 152.35,195.52 153.90,195.60 C155.45,195.68 157.05,195.60 158.60,195.30 C160.15,195.00 161.65,194.70 163.20,193.80 C164.75,192.90 166.35,191.20 167.90,189.90 C169.45,188.60 170.95,187.30 172.50,186.00 C174.05,184.70 175.65,183.27 177.20,182.10 C178.75,180.93 180.27,180.05 181.80,179.00 C183.33,177.95 184.85,176.43 186.40,175.80 C187.95,175.17 189.55,174.92 191.10,175.20 C192.65,175.48 194.42,176.35 195.70,177.50 C196.98,178.65 197.77,180.42 198.80,182.10 C199.83,183.78 200.60,185.53 201.90,187.60 C203.20,189.67 205.05,192.57 206.60,194.50 C208.15,196.43 209.40,197.78 211.20,199.20 C213.00,200.62 215.33,202.23 217.40,203.00 C219.47,203.77 221.02,203.67 223.60,203.80 C226.18,203.93 230.83,203.85 232.90,203.80 C234.97,203.75 234.45,203.17 236.00,203.50 C237.55,203.83 240.40,206.32 242.20,205.80 C244.00,205.28 245.25,202.85 246.80,200.40 C248.35,197.95 249.68,194.47 251.50,191.10 C253.32,187.73 255.63,183.68 257.70,180.20 C259.77,176.72 262.10,172.65 263.90,170.20 C265.70,167.75 266.95,166.92 268.50,165.50 C270.05,164.08 271.65,162.22 273.20,161.70 C274.75,161.18 276.27,161.50 277.80,162.40 C279.33,163.30 281.12,165.42 282.40,167.10 C283.68,168.78 284.47,170.43 285.50,172.50 C286.53,174.57 287.30,176.78 288.60,179.50 C289.90,182.22 291.75,186.35 293.30,188.80 C294.85,191.25 296.10,192.02 297.90,194.20 C299.70,196.38 302.03,199.07 304.10,201.90 C306.17,204.73 308.50,208.87 310.30,211.20 C312.10,213.53 312.83,215.00 314.90,215.90 C316.97,216.80 320.37,216.22 322.70,216.60 C325.03,216.98 327.68,217.78 328.90,218.20 C330.12,218.62 329.05,218.30 330.00,219.10 C330.95,219.90 333.05,222.10 334.60,223.00 C336.15,223.90 337.48,224.25 339.30,224.50 C341.12,224.75 343.43,224.75 345.50,224.50 C347.57,224.25 349.63,223.63 351.70,223.00 C353.77,222.37 355.85,221.48 357.90,220.70 C359.95,219.92 361.95,219.15 364.00,218.30 C366.05,217.45 368.38,216.63 370.20,215.60 C372.02,214.57 373.60,212.80 374.90,212.10 C376.20,211.40 376.45,211.40 378.00,211.40 C379.55,211.40 381.88,211.92 384.20,212.10 C386.52,212.28 389.83,212.35 391.90,212.50 C393.97,212.65 395.05,212.48 396.60,213.00 C398.15,213.52 399.40,214.58 401.20,215.60 C403.00,216.62 405.33,218.13 407.40,219.10 C409.47,220.07 412.33,220.92 413.60,221.40 C414.87,221.88 413.22,220.93 415.00,222.00 C416.78,223.07 421.20,224.70 424.30,227.80 C427.40,230.90 430.98,236.60 433.60,240.60 C436.22,244.60 438.02,248.70 440.00,251.80 C441.98,254.90 443.67,256.45 445.50,259.20 C447.33,261.95 449.17,264.63 451.00,268.30 C452.83,271.97 454.67,276.92 456.50,281.20 C458.33,285.48 460.47,290.43 462.00,294.00 C463.53,297.57 464.47,300.37 465.70,302.60 C466.93,304.83 467.87,306.38 469.40,307.40 C470.93,308.42 473.07,308.37 474.90,308.70 C476.73,309.03 478.88,309.70 480.40,309.40 C481.92,309.10 482.78,308.55 484.00,306.90 C485.22,305.25 486.17,301.95 487.70,299.50 C489.23,297.05 491.15,294.22 493.20,292.20 C495.25,290.18 498.03,288.35 500.00,287.40 C501.97,286.45 503.00,286.80 505.00,286.50 C507.00,286.20 509.50,285.62 512.00,285.60 C514.50,285.58 517.33,286.40 520.00,286.40 C522.67,286.40 525.33,285.73 528.00,285.60 C530.67,285.47 533.33,285.47 536.00,285.60 C538.67,285.73 541.33,285.73 544.00,286.40 C546.67,287.07 549.33,288.60 552.00,289.60 C554.67,290.60 557.33,291.60 560.00,292.40 C562.67,293.20 565.33,293.87 568.00,294.40 C570.67,294.93 574.00,295.43 576.00,295.60 C578.00,295.77 578.13,294.83 580.00,295.40 C581.87,295.97 585.18,297.60 587.20,299.00 C589.22,300.40 590.08,301.38 592.10,303.80 C594.12,306.22 597.28,310.88 599.30,313.50 C601.32,316.12 602.18,317.48 604.20,319.50 C606.22,321.52 609.00,323.58 611.40,325.60 C613.80,327.62 616.58,329.60 618.60,331.60 C620.62,333.60 621.88,335.67 623.50,337.60 C625.12,339.53 626.28,341.50 628.30,343.20 C630.32,344.90 633.18,346.12 635.60,347.80 C638.02,349.48 640.80,351.88 642.80,353.30 C644.80,354.72 645.98,355.80 647.60,356.30 C649.22,356.80 650.88,357.05 652.50,356.30 C654.12,355.55 655.70,353.93 657.30,351.80 C658.90,349.67 659.98,346.32 662.10,343.50 C664.22,340.68 667.78,336.55 670.00,334.90 C672.22,333.25 673.82,334.12 675.40,333.60 C676.98,333.08 678.37,332.25 679.50,331.80 C680.63,331.35 681.08,330.93 682.20,330.90 C683.32,330.87 684.63,331.40 686.20,331.60 C687.77,331.80 689.80,332.10 691.60,332.10 C693.40,332.10 695.18,331.95 697.00,331.60 C698.82,331.25 700.68,330.53 702.50,330.00 C704.32,329.47 706.10,328.78 707.90,328.40 C709.70,328.02 711.50,327.82 713.30,327.70 C715.10,327.58 717.12,327.35 718.70,327.70 C720.28,328.05 721.45,328.88 722.80,329.80 C724.15,330.72 725.23,331.85 726.80,333.20 C728.37,334.55 730.38,336.45 732.20,337.90 C734.02,339.35 735.88,340.67 737.70,341.90 C739.52,343.13 741.30,344.43 743.10,345.30 C744.90,346.17 746.70,346.72 748.50,347.10 C750.30,347.48 752.43,347.67 753.90,347.60 C755.37,347.53 756.17,347.57 757.30,346.70 C758.43,345.83 759.47,343.65 760.70,342.40 C761.93,341.15 763.48,340.00 764.70,339.20 C765.92,338.40 767.45,337.87 768.00,337.60" fill="none" stroke="#40108f" stroke-opacity="0.70" stroke-width="2" stroke-linejoin="round"/>
<line x1="40.0" y1="405.5" x2="769.0" y2="405.5" stroke="#6e7079" stroke-width="1"/>
<line x1="40.5" y1="405" x2="40.5" y2="410" stroke="#6e7079" stroke-width="1"/>
<text x="40.5" y="422" font-size="12" fill="#6e7079" text-anchor="middle">20211022</text>
<line x1="132.5" y1="405" x2="132.5" y2="410" stroke="#6e7079" stroke-width="1"/>
<text x="132.2" y="422" font-size="12" fill="#6e7079" text-anchor="middle">20211112</text>
<line x1="224.5" y1="405" x2="224.5" y2="410" stroke="#6e7079" stroke-width="1"/>
<text x="223.9" y="422" font-size="12" fill="#6e7079" text-anchor="middle">20211203</text>
<line x1="315.5" y1="405" x2="315.5" y2="410" stroke="#6e7079" stroke-width="1"/>
<text x="315.6" y="422" font-size="12" fill="#6e7079" text-anchor="middle">20211224</text>
<line x1="407.5" y1="405" x2="407.5" y2="410" stroke="#6e7079" stroke-width="1"/>
<text x="407.4" y="422" font-size="12" fill="#6e7079" text-anchor="middle">20220117</text>
<line x1="499.5" y1="405" x2="499.5" y2="410" stroke="#6e7079" stroke-width="1"/>
<text x="499.1" y="422" font-size="12" fill="#6e7079" text-anchor="middle">20220214</text>
<line x1="591.5" y1="405" x2="591.5" y2="410" stroke="#6e7079" stroke-width="1"/>
<text x="590.8" y="422" font-size="12" fill="#6e7079" text-anchor="middle">20220307</text>
<line x1="682.5" y1="405" x2="682.5" y2="410" stroke="#6e7079" stroke-width="1"/>
<text x="682.5" y="422" font-size="12" fill="#6e7079" text-anchor="middle">20220328</text>
<line x1="768.5" y1="405" x2="768.5" y2="410" stroke="#6e7079" stroke-width="1"/>
<text x="768.1" y="422" font-size="12" fill="#6e7079" text-anchor="middle">20220419</text>
<line x1="265.0" y1="468.3" x2="290.0" y2="468.3" stroke="#40108f" stroke-opacity="0.70" stroke-width="2"/>
<circle cx="277.2" cy="468.3" r="5.5" fill="#fff" stroke="#40108f" stroke-width="2"/>
<text x="294.7" y="471.6" font-size="12" fill="#333">MA5</text>
<line x1="330.2" y1="468.3" x2="355.2" y2="468.3" stroke="#d96c12" stroke-opacity="0.70" stroke-width="2"/>
<circle cx="342.6" cy="468.3" r="5.5" fill="#fff" stroke="#d96c12" stroke-width="2"/>
<text x="360.3" y="471.6" font-size="12" fill="#333">MA10</text>
<line x1="402.5" y1="468.3" x2="427.5" y2="468.3" stroke="#c81e85" stroke-opacity="0.70" stroke-width="2"/>
<circle cx="415.0" cy="468.3" r="5.5" fill="#fff" stroke="#c81e85" stroke-width="2"/>
<text x="433.0" y="471.6" font-size="12" fill="#333">MA30</text>
<line x1="475.0" y1="468.3" x2="500.0" y2="468.3" stroke="#137178" stroke-opacity="0.70" stroke-width="2"/>
<circle cx="487.6" cy="468.3" r="5.5" fill="#fff" stroke="#137178" stroke-width="2"/>
<text x="505.1" y="471.6" font-size="12" fill="#333">MA60</text>
<text x="334" y="510" font-size="14" fill="#555">数据来源</text>
<text x="0" y="0" font-size="14" fill="#555" stroke="#555" stroke-width="0.8" transform="translate(386,510.6) scale(1,0.62)">：</text>
<text x="409" y="510" font-size="14" fill="#555">恒生聚源</text>
</svg></body></html>
